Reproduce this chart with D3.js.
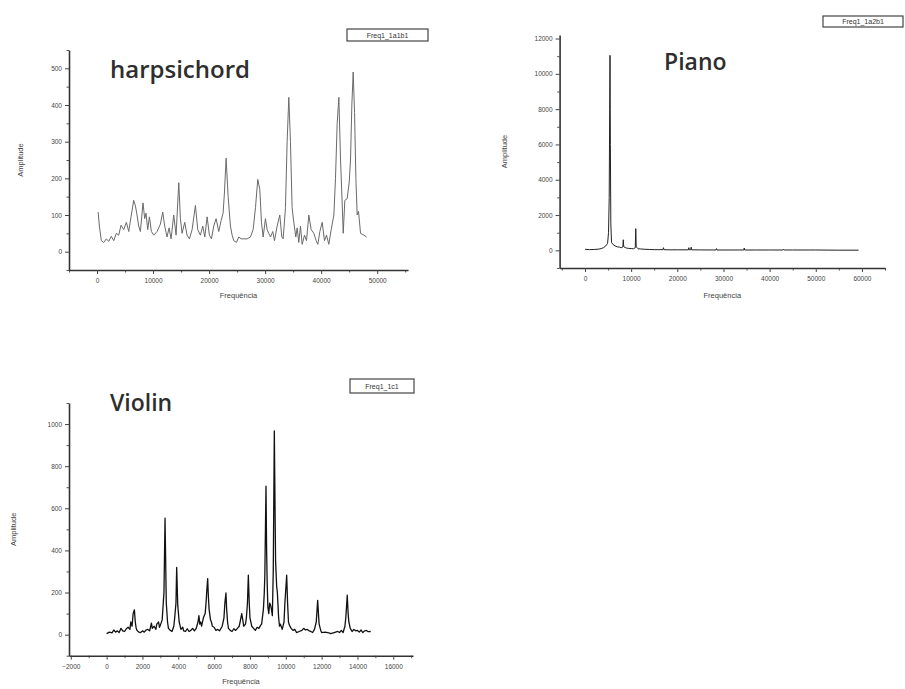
<!DOCTYPE html>
<html><head><meta charset="utf-8">
<script src="https://cdn.jsdelivr.net/npm/d3@7"></script>
<style>
html,body{margin:0;padding:0;background:#fff;}
svg{display:block;}
</style></head>
<body>
<script>
// ---- Harpsichord spectrum ----
const harpFreq = [200,420,770,1190,1670,2080,2560,2980,3450,3870,4290,4760,5240,5660,6070,6550,6850,7140,7440,7740,8210,8510,8750,9050,9350,9700,10120,10720,11310,11730,12080,12500,12860,13220,13690,14110,14590,14880,15180,15660,16070,16490,16970,17560,17980,18450,18870,19230,19650,20060,20420,20840,21250,21730,22150,22500,22740,23040,23400,23810,24110,24410,24880,25300,25720,26190,26790,27380,27860,28280,28690,29050,29350,29650,30060,30360,30660,30960,31370,31670,32150,32620,32980,33220,33630,33930,34230,34520,34820,35120,35480,35720,36010,36310,36610,37030,37390,37800,38220,38690,39110,39410,39770,40180,40600,40960,41370,41790,42270,42560,42860,43160,43460,43760,43940,44230,44650,45010,45240,45480,45720,45960,46200,46430,46670,47030,47630,48100];
const harpAmp  = [108,70,30,25,35,28,42,30,50,45,72,60,80,55,95,140,125,100,70,55,133,90,105,60,95,55,45,55,75,108,70,40,65,35,100,45,188,90,50,80,45,35,60,126,60,45,70,40,95,45,35,70,90,55,85,105,160,255,150,70,45,30,25,40,35,35,35,40,60,120,197,170,80,40,90,60,50,40,55,30,70,100,40,35,120,300,421,300,120,80,40,65,25,70,20,45,30,100,60,50,30,20,55,80,30,45,20,60,100,200,350,421,250,130,50,140,145,190,250,400,490,380,200,100,110,50,45,40];

// ---- Piano spectrum ----
const pianoFreq = [0,1000,2000,3000,3500,4000,4500,4900,5100,5250,5350,5420,5500,5600,5750,6000,6500,7000,7500,8000,8200,8300,8400,8700,9000,9500,10000,10500,10900,11000,11100,11500,12000,13000,14000,15000,16000,16900,17000,17100,18000,20000,22400,22500,22600,22900,23000,23100,25000,28400,28500,28600,31000,34400,34500,34600,37000,40000,42900,43000,43100,45000,50000,55000,59270];
const pianoAmp  = [60,40,50,70,100,150,250,400,1000,3000,8000,11050,6000,1500,450,350,250,200,180,150,200,600,200,160,130,110,100,90,150,1230,200,90,80,60,50,40,40,40,150,40,30,30,30,150,30,30,180,30,25,20,100,20,20,20,130,20,20,20,20,60,20,20,20,10,10];

// ---- Violin spectrum ----
const violinFreq = [0,150,300,400,500,600,700,800,900,1000,1100,1200,1300,1350,1420,1480,1550,1600,1650,1700,1800,1900,2000,2100,2200,2300,2400,2500,2550,2650,2750,2800,2900,2950,3000,3100,3200,3260,3330,3400,3450,3550,3650,3750,3800,3870,3910,3970,4050,4150,4250,4300,4400,4500,4600,4700,4800,4900,5000,5100,5150,5200,5250,5300,5400,5500,5550,5600,5640,5680,5720,5800,5850,5900,6000,6100,6200,6300,6450,6550,6600,6660,6700,6750,6800,6900,7000,7100,7200,7300,7400,7450,7540,7600,7650,7750,7800,7860,7910,7960,8000,8100,8200,8300,8400,8500,8600,8650,8750,8800,8830,8895,8930,8960,9000,9050,9100,9150,9200,9250,9300,9360,9400,9430,9490,9530,9560,9600,9650,9700,9800,9900,9950,10050,10100,10150,10200,10300,10400,10500,10600,10750,10900,11000,11100,11200,11300,11400,11500,11600,11700,11780,11830,11860,11950,12000,12200,12400,12500,12700,12900,13000,13100,13200,13300,13350,13430,13480,13520,13600,13700,13800,13900,14000,14100,14200,14300,14400,14500,14600,14740];
const violinAmp  = [5,12,8,22,12,18,10,30,18,15,28,35,25,60,40,100,118,60,30,20,12,10,18,12,22,25,18,55,30,40,25,50,60,35,45,70,200,553,150,60,30,20,15,40,80,150,319,140,60,25,35,18,15,28,15,20,30,18,30,60,90,50,60,40,80,100,150,220,266,180,120,70,60,40,35,20,25,18,40,80,150,198,120,60,30,20,15,28,20,30,40,60,100,70,40,50,80,150,282,150,80,40,30,20,35,30,45,50,120,200,280,705,400,250,130,100,150,140,120,90,300,968,600,350,230,200,150,80,40,50,25,60,150,282,150,60,45,30,20,25,10,15,20,30,22,25,18,15,10,25,60,163,90,50,20,10,12,8,5,10,15,10,20,10,40,80,187,100,60,30,15,25,18,20,12,22,10,18,20,14,15];

// tick labels
const harpXTicks = [0,10000,20000,30000,40000,50000];
const harpYTicks = [0,100,200,300,400,500];
const pianoXTicks = [0,10000,20000,30000,40000,50000,60000];
const pianoYTicks = [0,2000,4000,6000,8000,10000,12000];
const violinXTicks = [-2000,0,2000,4000,6000,8000,10000,12000,14000,16000];
const violinYTicks = [0,200,400,600,800,1000];

const W = 905, H = 689;
const svg = d3.select("body").append("svg").attr("width", W).attr("height", H);

const panels = [
  {title:"harpsichord", freq:harpFreq, amp:harpAmp, xt:harpXTicks, yt:harpYTicks,
   xd:[-5000,55500], xr:[69,408], yd:[-50,550], yr:[270,50], xminor:5000, yminor:50,
   color:"#6a6a6a", lw:1, titleX:110, titleY:78, titleSize:24,
   legend:{x:347,y:29,w:81,h:12,text:"Freq1_1a1b1"},
   ylabX:23, xlabY:298},
  {title:"Piano", freq:pianoFreq, amp:pianoAmp, xt:pianoXTicks, yt:pianoYTicks,
   xd:[-5500,65000], xr:[559.6,885], yd:[-1000,12200], yr:[268,35], xminor:5000, yminor:1000,
   color:"#222", lw:1, titleX:664, titleY:70, titleSize:23,
   legend:{x:823,y:16,w:80,h:11,text:"Freq1_1a2b1"},
   ylabX:507, xlabY:298},
  {title:"Violin", freq:violinFreq, amp:violinAmp, xt:violinXTicks, yt:violinYTicks,
   xd:[-2100,17100], xr:[69,413], yd:[-100,1100], yr:[655.7,403], xminor:1000, yminor:100,
   color:"#111", lw:1.3, titleX:110, titleY:411, titleSize:23,
   legend:{x:350,y:379,w:64,h:14,text:"Freq1_1c1"},
   ylabX:16, xlabY:684}
];

panels.forEach(p => {
  const x = d3.scaleLinear().domain(p.xd).range(p.xr);
  const y = d3.scaleLinear().domain(p.yd).range(p.yr);
  const g = svg.append("g");
  const x0 = p.xr[0], y0 = p.yr[0];

  const xMinor = d3.range(Math.ceil(p.xd[0]/p.xminor)*p.xminor, p.xd[1]+1, p.xminor).filter(v => !p.xt.includes(v));
  const yMinor = d3.range(Math.ceil(p.yd[0]/p.yminor)*p.yminor, p.yd[1]+1, p.yminor).filter(v => !p.yt.includes(v));
  const xAxMinor = d3.axisBottom(x).tickValues(xMinor).tickSize(2.5).tickFormat("");
  const yAxMinor = d3.axisLeft(y).tickValues(yMinor).tickSize(2.5).tickFormat("");
  g.append("g").attr("transform",`translate(0,${y0})`).call(xAxMinor)
    .call(s=>s.select(".domain").remove()).selectAll("line").attr("stroke","#555");
  g.append("g").attr("transform",`translate(${x0},0)`).call(yAxMinor)
    .call(s=>s.select(".domain").remove()).selectAll("line").attr("stroke","#555");

  const xAx = d3.axisBottom(x).tickValues(p.xt).tickSize(4).tickSizeOuter(0).tickFormat(d3.format("d"));
  const yAx = d3.axisLeft(y).tickValues(p.yt).tickSize(4).tickSizeOuter(0).tickFormat(d3.format("d"));
  const gx = g.append("g").attr("transform",`translate(0,${y0})`).call(xAx);
  const gy = g.append("g").attr("transform",`translate(${x0},0)`).call(yAx);
  [gx, gy].forEach(a => {
    a.attr("font-family","Liberation Sans, Arial, sans-serif");
    a.select(".domain").attr("stroke","#333").attr("stroke-width",1.6);
    a.selectAll(".tick line").attr("stroke","#444").attr("stroke-width",1);
    a.selectAll(".tick text").attr("font-size",6.5).attr("fill","#444");
  });
  gx.selectAll(".tick text").attr("dy","0.9em").attr("y",7);

  g.append("text").attr("x",(p.xr[0]+p.xr[1])/2).attr("y",p.xlabY)
    .attr("text-anchor","middle").attr("font-family","Liberation Sans, Arial, sans-serif")
    .attr("font-size",7.5).attr("fill","#444").text("Frequência");
  g.append("text").attr("transform",`translate(${p.ylabX},${(p.yr[0]+p.yr[1])/2}) rotate(-90)`)
    .attr("text-anchor","middle").attr("font-family","Liberation Sans, Arial, sans-serif")
    .attr("font-size",7.5).attr("fill","#444").text("Amplitude");

  const line = d3.line().x((d,i)=>x(p.freq[i])).y((d,i)=>y(p.amp[i]));
  g.append("path").datum(p.amp).attr("d", line).attr("fill","none")
    .attr("stroke",p.color).attr("stroke-width",p.lw).attr("stroke-linejoin","round");

  g.append("text").attr("x",p.titleX).attr("y",p.titleY)
    .attr("font-family","Open Sans, sans-serif").attr("font-weight",600)
    .attr("font-size",p.titleSize).attr("fill","#2e2e2e").text(p.title);

  const L = p.legend;
  g.append("rect").attr("x",L.x).attr("y",L.y).attr("width",L.w).attr("height",L.h)
    .attr("fill","#fff").attr("stroke","#444").attr("stroke-width",1.2);
  g.append("text").attr("x",L.x+L.w/2).attr("y",L.y+L.h/2+2.5).attr("text-anchor","middle")
    .attr("font-family","Liberation Sans, Arial, sans-serif").attr("font-size",7)
    .attr("fill","#333").text(L.text);
});
</script>
</body></html>
